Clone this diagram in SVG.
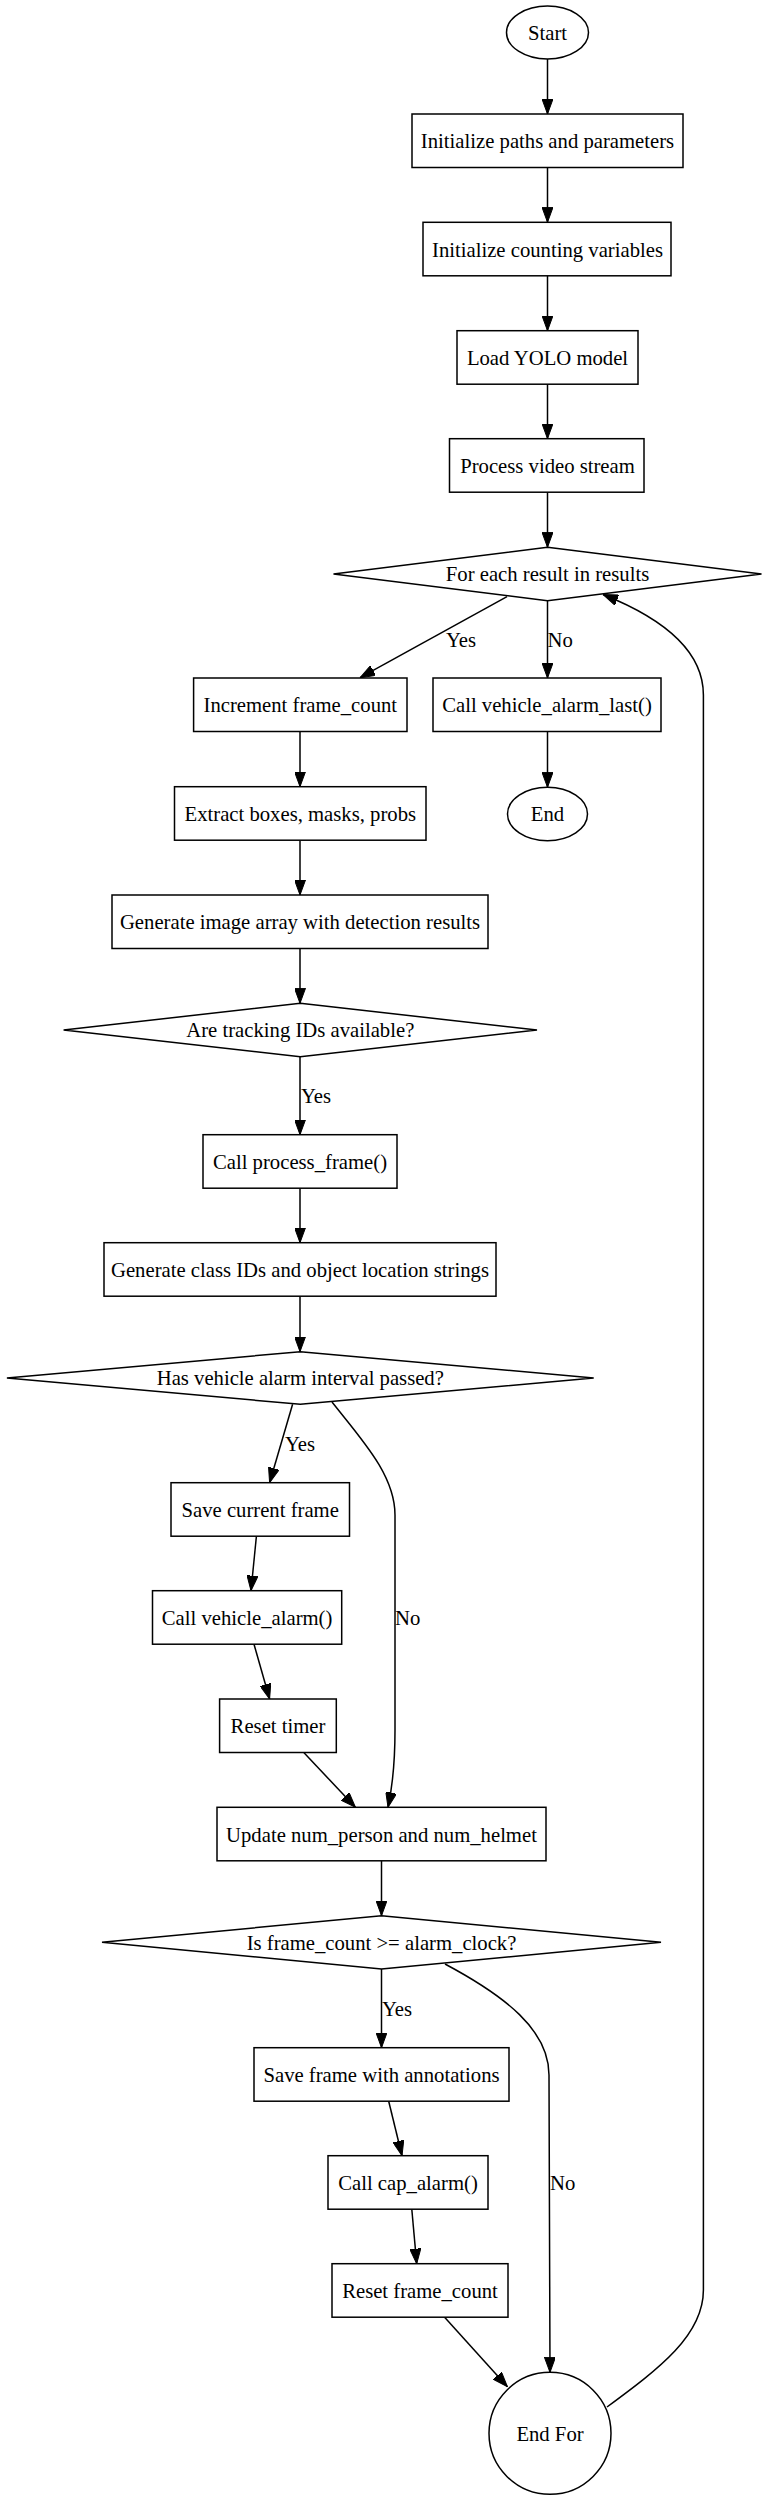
<svg xmlns="http://www.w3.org/2000/svg" width="770" height="2500" viewBox="0 0 770 2500">
<style>
  .n { fill: #ffffff; stroke: #000000; stroke-width: 1.5; }
  .t { font-family: "Liberation Serif", "Times New Roman", serif; font-size: 20.7px; fill: #000000; text-anchor: middle; }
  .l { font-family: "Liberation Serif", "Times New Roman", serif; font-size: 20.7px; fill: #000000; text-anchor: start; }
  .e { fill: none; stroke: #000000; stroke-width: 1.5; }
</style>
<defs>
  <marker id="arr" viewBox="0 0 15 11" refX="15" refY="5.5" markerWidth="15" markerHeight="11" markerUnits="userSpaceOnUse" orient="auto">
    <path d="M0,0 L15,5.5 L0,11 z" fill="#000000" stroke="#000000" stroke-width="1"/>
  </marker>
</defs>
<rect x="0" y="0" width="770" height="2500" fill="#ffffff"/>

<g id="edges">
  <path class="e" marker-end="url(#arr)" d="M547.5,59 L547.5,114"/>
  <path class="e" marker-end="url(#arr)" d="M547.5,167.5 L547.5,222.3"/>
  <path class="e" marker-end="url(#arr)" d="M547.5,276 L547.5,330.7"/>
  <path class="e" marker-end="url(#arr)" d="M547.5,384 L547.5,438.7"/>
  <path class="e" marker-end="url(#arr)" d="M547.5,492.3 L547.5,547.3"/>
  <path class="e" marker-end="url(#arr)" d="M507,596.7 L360,677.7"/>
  <text class="l" x="446" y="647">Yes</text>
  <path class="e" marker-end="url(#arr)" d="M547.5,600.7 L547.5,678"/>
  <text class="l" x="547.5" y="647">No</text>
  <path class="e" marker-end="url(#arr)" d="M547.5,732 L547.5,787.3"/>
  <path class="e" marker-end="url(#arr)" d="M300,732 L300,786.7"/>
  <path class="e" marker-end="url(#arr)" d="M300,840.7 L300,895"/>
  <path class="e" marker-end="url(#arr)" d="M300,948.7 L300,1003.3"/>
  <path class="e" marker-end="url(#arr)" d="M300,1056.7 L300,1134.7"/>
  <text class="l" x="301" y="1103">Yes</text>
  <path class="e" marker-end="url(#arr)" d="M300,1188.3 L300,1242.7"/>
  <path class="e" marker-end="url(#arr)" d="M300,1296.3 L300,1351.7"/>
  <path class="e" marker-end="url(#arr)" d="M292.6,1404.3 L269.6,1482.7"/>
  <text class="l" x="285" y="1451">Yes</text>
  <path class="e" marker-end="url(#arr)" d="M332,1402 C362,1440 395,1475 395,1515 L395,1730 C395,1762 393,1784 388,1807.3"/>
  <text class="l" x="395" y="1625">No</text>
  <path class="e" marker-end="url(#arr)" d="M256.4,1536.2 L251,1590.7"/>
  <path class="e" marker-end="url(#arr)" d="M254,1644.3 L269.6,1699"/>
  <path class="e" marker-end="url(#arr)" d="M304,1752.7 L355.4,1807.3"/>
  <path class="e" marker-end="url(#arr)" d="M381.5,1861 L381.5,1915.7"/>
  <path class="e" marker-end="url(#arr)" d="M381.5,1969 L381.5,2047.7"/>
  <text class="l" x="382" y="2016">Yes</text>
  <path class="e" marker-end="url(#arr)" d="M445,1964 C505,1996 549,2030 549,2075 L550,2372.3"/>
  <text class="l" x="550" y="2190">No</text>
  <path class="e" marker-end="url(#arr)" d="M388.7,2101.2 L402,2155.7"/>
  <path class="e" marker-end="url(#arr)" d="M411.8,2209.2 L416.7,2263.7"/>
  <path class="e" marker-end="url(#arr)" d="M444.6,2317.2 L507.4,2386.7"/>
  <path class="e" marker-end="url(#arr)" d="M607,2407 C660,2368 703.4,2335 703.4,2290 L703.4,695 C703.4,650 662,618 603,594.5"/>
</g>

<g id="node-start">
  <ellipse class="n" cx="547.5" cy="32.5" rx="41" ry="26.5"/>
  <text class="t" x="547.5" y="40">Start</text>
</g>
<g id="node-init-paths">
  <rect class="n" x="412" y="114" width="271" height="53.5"/>
  <text class="t" x="547.5" y="148.3">Initialize paths and parameters</text>
</g>
<g id="node-init-counting">
  <rect class="n" x="423" y="222.3" width="248" height="53.5"/>
  <text class="t" x="547.5" y="256.6">Initialize counting variables</text>
</g>
<g id="node-load-yolo">
  <rect class="n" x="457" y="330.7" width="181" height="53.5"/>
  <text class="t" x="547.5" y="365">Load YOLO model</text>
</g>
<g id="node-process-video">
  <rect class="n" x="449.5" y="438.7" width="194.5" height="53.5"/>
  <text class="t" x="547.5" y="473">Process video stream</text>
</g>
<g id="node-for-each">
  <polygon class="n" points="547.5,547.3 761.5,574 547.5,600.7 333.5,574"/>
  <text class="t" x="547.5" y="581.3">For each result in results</text>
</g>
<g id="node-increment">
  <rect class="n" x="193.6" y="678" width="213.4" height="53.5"/>
  <text class="t" x="300.3" y="712.3">Increment frame_count</text>
</g>
<g id="node-vehicle-alarm-last">
  <rect class="n" x="433" y="678" width="228" height="53.5"/>
  <text class="t" x="547" y="712.3">Call vehicle_alarm_last()</text>
</g>
<g id="node-end">
  <ellipse class="n" cx="547.5" cy="814" rx="40" ry="26.7"/>
  <text class="t" x="547.5" y="821.3">End</text>
</g>
<g id="node-extract">
  <rect class="n" x="174.5" y="786.7" width="251.5" height="53.5"/>
  <text class="t" x="300.3" y="821">Extract boxes, masks, probs</text>
</g>
<g id="node-generate-image">
  <rect class="n" x="112" y="895" width="376" height="53.5"/>
  <text class="t" x="300" y="929.3">Generate image array with detection results</text>
</g>
<g id="node-tracking">
  <polygon class="n" points="300.3,1003.3 537,1030 300.3,1056.7 63.6,1030"/>
  <text class="t" x="300.3" y="1037.3">Are tracking IDs available?</text>
</g>
<g id="node-process-frame">
  <rect class="n" x="203" y="1134.7" width="194" height="53.5"/>
  <text class="t" x="300" y="1169">Call process_frame()</text>
</g>
<g id="node-generate-class">
  <rect class="n" x="104" y="1242.7" width="392" height="53.5"/>
  <text class="t" x="300" y="1277">Generate class IDs and object location strings</text>
</g>
<g id="node-vehicle-interval">
  <polygon class="n" points="300.3,1351.7 593.7,1378 300.3,1404.3 6.9,1378"/>
  <text class="t" x="300.3" y="1385.3">Has vehicle alarm interval passed?</text>
</g>
<g id="node-save-current">
  <rect class="n" x="171" y="1482.7" width="178.5" height="53.5"/>
  <text class="t" x="260.2" y="1517">Save current frame</text>
</g>
<g id="node-vehicle-alarm">
  <rect class="n" x="152.5" y="1590.7" width="189.2" height="53.5"/>
  <text class="t" x="247.1" y="1625">Call vehicle_alarm()</text>
</g>
<g id="node-reset-timer">
  <rect class="n" x="219.6" y="1699" width="116.7" height="53.5"/>
  <text class="t" x="278" y="1733.3">Reset timer</text>
</g>
<g id="node-update">
  <rect class="n" x="217" y="1807.3" width="329" height="53.5"/>
  <text class="t" x="381.5" y="1841.6">Update num_person and num_helmet</text>
</g>
<g id="node-frame-check">
  <polygon class="n" points="381.5,1915.7 661,1942.3 381.5,1969 102,1942.3"/>
  <text class="t" x="381.5" y="1949.6">Is frame_count &gt;= alarm_clock?</text>
</g>
<g id="node-save-annotations">
  <rect class="n" x="254" y="2047.7" width="255" height="53.5"/>
  <text class="t" x="381.5" y="2082">Save frame with annotations</text>
</g>
<g id="node-cap-alarm">
  <rect class="n" x="328" y="2155.7" width="160" height="53.5"/>
  <text class="t" x="408" y="2190">Call cap_alarm()</text>
</g>
<g id="node-reset-frame-count">
  <rect class="n" x="332" y="2263.7" width="176" height="53.5"/>
  <text class="t" x="420" y="2298">Reset frame_count</text>
</g>
<g id="node-end-for">
  <ellipse class="n" cx="550" cy="2433.3" rx="61" ry="61"/>
  <text class="t" x="550" y="2440.6">End For</text>
</g>
</svg>
